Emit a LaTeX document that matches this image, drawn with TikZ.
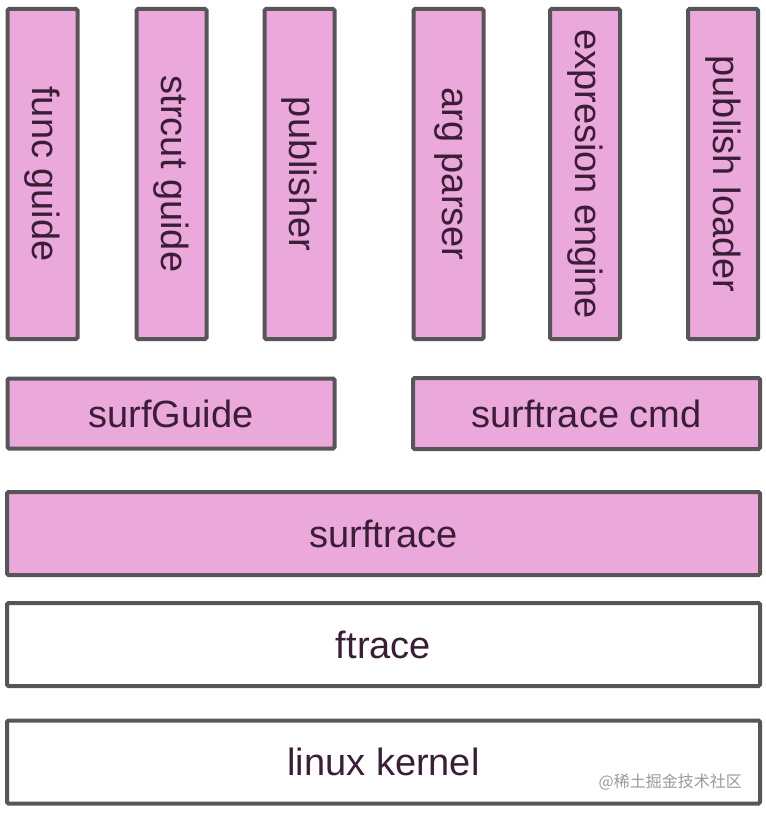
\documentclass[tikz,border=0pt]{standalone}
\usepackage{fontspec}
\setmainfont{Liberation Sans}
\newfontfamily\cjk{Noto Sans CJK SC}
\definecolor{boxpink}{HTML}{EBA8DA}
\definecolor{boxedge}{HTML}{585558}
\definecolor{boxtext}{HTML}{3A1E38}
\definecolor{wmgray}{HTML}{9A9A9A}
\tikzset{
  layer/.style={draw=boxedge, line width=4pt, rounded corners=1.5pt, inner sep=0pt,
    text=boxtext, font=\fontsize{38}{41}\selectfont},
  pinkbox/.style={layer, fill=boxpink},
  whitebox/.style={layer, fill=white},
  tall/.style={pinkbox, minimum width=70pt, minimum height=330pt},
  vlabel/.style={text=boxtext, font=\fontsize{38}{41}\selectfont, rotate=-90, inner sep=0pt},
}
\begin{document}
\begin{tikzpicture}[x=1pt,y=-1pt]
\useasboundingbox (0,0) rectangle (765,813);
% tall boxes
\node[tall] (func) at (42.5,174) {};
\node[vlabel] (funcl) at (func.center) {func guide};
\node[tall] (strcut) at (171.5,174) {};
\node[vlabel] (strcutl) at (strcut.center) {strcut guide};
\node[tall] (pub) at (299.5,174) {};
\node[vlabel] (publ) at (pub.center) {publisher};
\node[tall] (arg) at (448.5,174) {};
\node[vlabel] (argl) at (arg.center) {arg parser};
\node[tall] (expr) at (585,174) {};
\node[vlabel] (exprl) at (expr.center) {expresion engine};
\node[tall] (loader) at (723,174) {};
\node[vlabel] (loaderl) at (loader.center) {publish loader};
% middle row
\node[pinkbox, minimum width=327pt, minimum height=70pt] (sg) at (171,413.5) {surfGuide};
\node[pinkbox, minimum width=347pt, minimum height=71pt] (cmd) at (586.5,413.5) {surftrace cmd};
% layers
\node[pinkbox, minimum width=753pt, minimum height=83pt] (st) at (383.5,533.5) {surftrace};
\node[whitebox, minimum width=753pt, minimum height=83pt] (ft) at (383.5,644.5) {ftrace};
\node[whitebox, minimum width=753pt, minimum height=83pt] (lk) at (383.5,762) {linux kernel};
% watermark
\node[text=wmgray, font=\cjk\fontsize{16}{18}\selectfont, anchor=east, inner sep=0pt] (wm) at (742,782) {@稀土掘金技术社区};
\end{tikzpicture}
\end{document}
